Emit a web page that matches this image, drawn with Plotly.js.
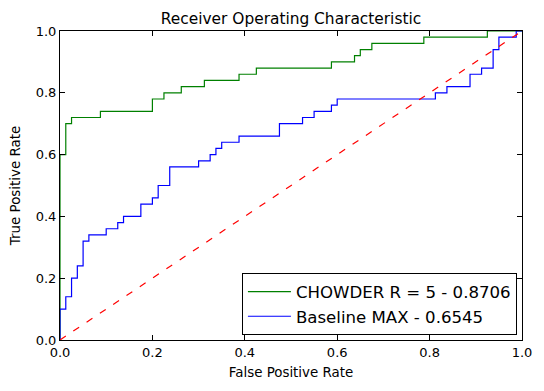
<!DOCTYPE html>
<html>
<head>
<meta charset="utf-8">
<script src="https://cdn.plot.ly/plotly-3.0.1.min.js"></script>
<style>
  html, body { margin: 0; padding: 0; background: #fff; }
  #chart { width: 544px; height: 391px; }
</style>
</head>
<body>
<div id="chart"></div>
<script>
// ROC points (step corners)
var chowderName = 'CHOWDER R = 5 - 0.8706';
var chowderFpr = [0, 0, 0.0125, 0.025, 0.0875, 0.2, 0.225, 0.2625, 0.3125, 0.3875, 0.425, 0.5875, 0.6375, 0.65, 0.675, 0.7875, 0.925, 1];
var chowderTpr = [0, 0.60, 0.70, 0.72, 0.74, 0.78, 0.80, 0.82, 0.84, 0.86, 0.88, 0.90, 0.92, 0.94, 0.96, 0.98, 1.0, 1.0];

var baselineName = 'Baseline MAX - 0.6545';
var baselineFpr = [0, 0, 0.0125, 0.025, 0.0375, 0.05, 0.0625, 0.1, 0.125, 0.1375, 0.175, 0.2, 0.2125, 0.2375, 0.3, 0.325, 0.3375, 0.35, 0.3875, 0.475, 0.525, 0.55, 0.5875, 0.6, 0.8125, 0.8375, 0.8875, 0.9125, 0.9375, 0.95, 0.9875, 1];
var baselineTpr = [0, 0.10, 0.14, 0.20, 0.24, 0.32, 0.34, 0.36, 0.38, 0.40, 0.44, 0.46, 0.50, 0.56, 0.58, 0.60, 0.62, 0.64, 0.66, 0.70, 0.72, 0.74, 0.76, 0.78, 0.80, 0.82, 0.86, 0.88, 0.94, 0.98, 1.0, 1.0];

var chanceX = [0, 1];
var chanceY = [0, 1];

var tickVals = [0, 0.2, 0.4, 0.6, 0.8, 1.0];
var tickText = ['0.0', '0.2', '0.4', '0.6', '0.8', '1.0'];

var font = 'DejaVu Sans, sans-serif';

var trace1 = {
  x: chowderFpr,
  y: chowderTpr,
  mode: 'lines',
  name: chowderName,
  line: { color: '#008000', width: 1.2, shape: 'hv' }
};

var trace2 = {
  x: baselineFpr,
  y: baselineTpr,
  mode: 'lines',
  name: baselineName,
  line: { color: '#0000ff', width: 1.2, shape: 'hv' }
};

var trace3 = {
  x: chanceX,
  y: chanceY,
  mode: 'lines',
  showlegend: false,
  hoverinfo: 'skip',
  line: { color: '#ff0000', width: 1.2, dash: '7px,9px' }
};

var axisBase = {
  range: [0, 1],
  tickvals: tickVals,
  ticktext: tickText,
  ticks: 'inside',
  ticklen: 5,
  tickwidth: 1,
  tickcolor: '#000',
  showline: true,
  linecolor: '#000',
  linewidth: 1,
  mirror: 'allticks',
  showgrid: false,
  zeroline: false,
  tickfont: { family: font, size: 13, color: '#000' }
};

var layout = {
  width: 544,
  height: 391,
  margin: { l: 60, r: 22, t: 31, b: 51 },
  paper_bgcolor: '#fff',
  plot_bgcolor: '#fff',
  font: { family: font, color: '#000' },
  title: {
    text: 'Receiver Operating Characteristic',
    font: { family: font, size: 15.4, color: '#000' },
    x: 0.5, xref: 'paper', xanchor: 'center',
    y: 0.952, yref: 'container', yanchor: 'middle'
  },
  xaxis: Object.assign({}, axisBase, {
    title: { text: 'False Positive Rate', font: { family: font, size: 13.4 }, standoff: 9 }
  }),
  yaxis: Object.assign({}, axisBase, {
    title: { text: 'True Positive Rate', font: { family: font, size: 13.4 }, standoff: 12 }
  }),
  legend: {
    x: 0.989, y: 0.015,
    xanchor: 'right', yanchor: 'bottom',
    bgcolor: '#fff',
    bordercolor: '#000',
    borderwidth: 1,
    itemwidth: 43,
    font: { family: font, size: 16.6, color: '#000' }
  },
  showlegend: true
};

Plotly.newPlot('chart', [trace1, trace2, trace3], layout, { displayModeBar: false, staticPlot: true });
</script>
</body>
</html>
